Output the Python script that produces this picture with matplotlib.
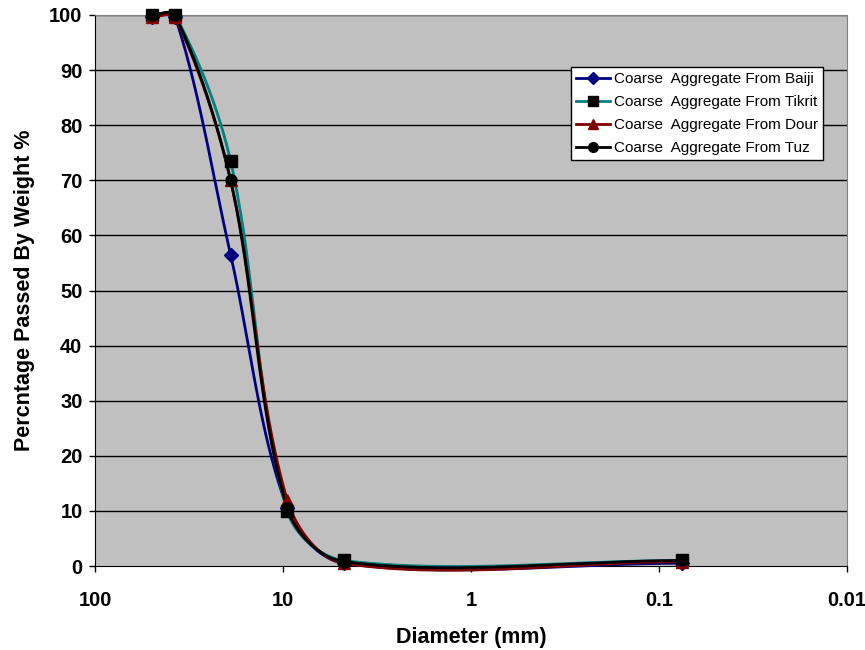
import numpy as np
import matplotlib.pyplot as plt

plt.rcParams['font.family'] = ['Liberation Sans', 'DejaVu Sans']

# sieve sizes (mm) and percent passing
sieve = [50, 37.5, 19, 9.5, 4.75, 0.075]
baiji = [99.6, 99.7, 56.5, 10.5, 0.5, 0.5]
tikrit = [100, 100, 73.5, 10.0, 1.0, 1.0]
dour = [99.6, 99.6, 70.0, 12.0, 0.5, 0.8]
tuz = [100, 100, 70.0, 10.5, 0.8, 1.0]

labels = ['Coarse  Aggregate From Baiji', 'Coarse  Aggregate From Tikrit',
          'Coarse  Aggregate From Dour', 'Coarse  Aggregate From Tuz']
line_colors = ['#000080', '#008080', '#800000', '#000000']
face_colors = ['#000080', '#000000', '#800000', '#000000']
markers = ['D', 's', '^', 'o']
msizes = [7, 8, 8, 8]

W_PX, H_PX = 752.0, 551.0


def smooth(xs, ys, n=60):
    """Excel-like smoothed line, bezier in screen space"""
    u = (2 - np.log10(xs)) / 4 * W_PX
    v = np.asarray(ys, float) / 100 * H_PX
    P = np.column_stack([u, v])
    m = len(P)
    d = np.linalg.norm(np.diff(P, axis=0), axis=1)
    out = []
    for i in range(m - 1):
        p1, p2 = P[i], P[i + 1]
        # outgoing control of p1
        if i > 0:
            T = P[i + 1] - P[i - 1]
            c1 = p1 + T * d[i] / (d[i - 1] + d[i]) / 3
        else:
            c1 = p1 + (p2 - p1) / 3
        # incoming control of p2
        if i + 2 < m:
            T = P[i + 2] - P[i]
            c2 = p2 - T * d[i] / (d[i] + d[i + 1]) / 3
        else:
            c2 = p2 - (p2 - p1) / 3
        t = np.linspace(0, 1, n)[:, None]
        seg = (1 - t) ** 3 * p1 + 3 * (1 - t) ** 2 * t * c1 + 3 * (1 - t) * t ** 2 * c2 + t ** 3 * p2
        out.append(seg)
    out = np.vstack(out)
    return 10 ** (2 - out[:, 0] / W_PX * 4), out[:, 1] / H_PX * 100


fig = plt.figure(figsize=(8.65, 6.5), dpi=100)
ax = fig.add_axes([95 / 865, 84 / 650, W_PX / 865, H_PX / 650])
ax.set_facecolor('#C0C0C0')

for ys, lab, lc, fc, mk, ms in zip([baiji, tikrit, dour, tuz], labels,
                                   line_colors, face_colors, markers, msizes):
    sx, sy = smooth(np.array(sieve), ys)
    ax.plot(sx, sy, color=lc, lw=2, zorder=3, clip_on=False)
    ax.plot(sieve, ys, ls='none', marker=mk, ms=ms, color=fc, zorder=4, clip_on=False)
    ax.plot([], [], color=lc, lw=2, marker=mk, ms=ms - 1, mfc=fc, mec=fc, label=lab)

ax.set_xscale('log')
ax.set_xlim(100, 0.01)
ax.set_ylim(0, 100)
ax.set_xticks([100, 10, 1, 0.1, 0.01])
ax.set_xticklabels(['100', '10', '1', '0.1', '0.01'])
ax.minorticks_off()
ax.set_yticks(range(0, 101, 10))
for yv in range(10, 101, 10):
    ax.axhline(yv, color='black', lw=1, zorder=1)

ax.tick_params(direction='out', length=4, width=1, labelsize=14.5)
ax.tick_params(axis='x', pad=14)
ax.tick_params(axis='y', pad=5)
for t in ax.get_xticklabels() + ax.get_yticklabels():
    t.set_fontweight('bold')

for s in ['top', 'right']:
    ax.spines[s].set_color('#808080')
for s in ['left', 'bottom']:
    ax.spines[s].set_color('black')

ax.set_xlabel('Diameter (mm)', fontsize=15.5, fontweight='bold', labelpad=12)
ax.set_ylabel('Percntage Passed By Weight %', fontsize=15.5, fontweight='bold', labelpad=10)

leg = ax.legend(loc='upper right', bbox_to_anchor=(0.968, 0.905), fontsize=11,
                frameon=True, fancybox=False, edgecolor='black', framealpha=1,
                handlelength=2.2, borderpad=0.3, labelspacing=0.6, handletextpad=0.3,
                borderaxespad=0)
leg.get_frame().set_linewidth(1)

fig.savefig('out.png', dpi=100)
